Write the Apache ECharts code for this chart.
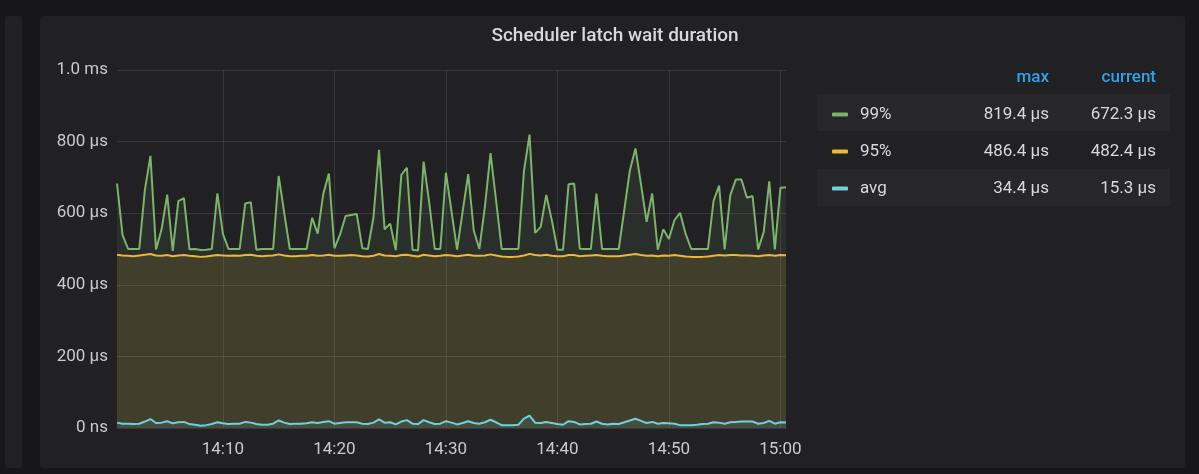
<!DOCTYPE html>
<html>
<head>
<meta charset="utf-8">
<script src="https://cdn.jsdelivr.net/npm/echarts@6/dist/echarts.min.js"></script>
<style>
  html, body { margin: 0; padding: 0; background: #17171a; width: 1199px; height: 474px; overflow: hidden; }
  .panel { position: absolute; background: #212124; border-radius: 3px; }
  .row { position: absolute; background: #27272b; }
  #chart { position: absolute; left: 0; top: 0; width: 1199px; height: 474px; }
</style>
</head>
<body>
<div class="panel" style="left:5px;top:16px;width:17px;height:452px;"></div>
<div class="panel" style="left:40px;top:16px;width:1145px;height:452px;"></div>
<div class="row" style="left:817px;top:94px;width:353px;height:37px;"></div>
<div class="row" style="left:817px;top:169px;width:353px;height:37px;"></div>
<div id="chart"></div>
<script>
// Time window: one sample every 30 s from 14:00:30 to 15:00:30
const startTime = [14, 0, 30];
const stepSeconds = 30;
const sampleCount = 121;

// Scheduler latch wait duration, microseconds
const p99 = [
  683, 539, 500, 500, 500, 665, 760, 499, 555, 652,
  495, 634, 642, 499, 500, 497, 498, 500, 655, 542,
  500, 500, 500, 627, 631, 498, 500, 500, 500, 704,
  600, 500, 500, 500, 500, 587, 543, 654, 711, 502,
  540, 592, 595, 598, 502, 500, 588, 777, 555, 571,
  497, 707, 727, 498, 496, 744, 630, 500, 500, 713,
  605, 498, 605, 709, 551, 500, 620, 768, 635, 500,
  500, 500, 500, 718, 819.4, 545, 562, 651, 580, 498,
  498, 681, 683, 501, 500, 500, 655, 500, 500, 500,
  500, 610, 720, 781, 680, 576, 655, 498, 555, 528,
  581, 601, 542, 500, 500, 500, 500, 634, 677, 499,
  650, 694, 694, 643, 648, 499, 547, 689, 499, 671,
  672.3
];
const p95 = [
  484, 482, 481, 480, 482, 484, 486, 482, 481, 483,
  480, 482, 483, 481, 480, 478, 479, 481, 483, 482,
  481, 482, 481, 483, 484, 481, 480, 481, 482, 485,
  482, 480, 480, 481, 481, 483, 481, 482, 484, 481,
  481, 482, 483, 482, 480, 479, 481, 486, 482, 481,
  480, 483, 484, 481, 479, 484, 482, 480, 481, 483,
  482, 480, 482, 484, 481, 481, 482, 485, 482, 479,
  478, 478, 479, 482, 486.4, 483, 482, 484, 481, 480,
  480, 483, 483, 480, 481, 482, 483, 481, 480, 480,
  480, 482, 484, 486, 483, 481, 482, 480, 482, 481,
  483, 481, 479, 478, 478, 478, 479, 481, 483, 482,
  483, 483, 482, 482, 481, 480, 482, 483, 481, 483,
  482.4
];
const avg = [
  15, 12, 12, 11, 12, 18, 25, 14, 15, 19,
  13, 16, 17, 11, 9, 6, 8, 11, 16, 13,
  11, 12, 12, 17, 15, 11, 9, 9, 12, 21,
  15, 11, 12, 12, 13, 16, 14, 17, 19, 12,
  14, 16, 16, 16, 12, 11, 15, 24, 15, 16,
  10, 18, 22, 12, 11, 22, 16, 11, 12, 19,
  15, 10, 14, 19, 14, 12, 16, 23, 16, 8,
  8, 8, 9, 26, 34.4, 15, 14, 17, 14, 11,
  9, 19, 17, 10, 11, 12, 18, 12, 10, 12,
  11, 16, 21, 26, 20, 14, 17, 12, 14, 13,
  12, 8, 8, 8, 9, 11, 12, 16, 15, 12,
  16, 17, 18, 18, 18, 12, 14, 20, 12, 16,
  15.3
];

const seriesNames = ['99%', '95%', 'avg'];
const seriesColors = ['#7eb26d', '#eab839', '#6ed0e0'];
const seriesData = [p99, p95, avg];
const yTicks = [0, 200, 400, 600, 800, 1000];

function pad(n) { return String(n).padStart(2, '0'); }
const times = [];
for (let i = 0; i < sampleCount; i++) {
  const s = startTime[0] * 3600 + startTime[1] * 60 + startTime[2] + i * stepSeconds;
  times.push(pad(Math.floor(s / 3600)) + ':' + pad(Math.floor(s / 60) % 60) + ':' + pad(s % 60));
}
// Grid lines and labels every 10 minutes
const isTenMinute = (idx) => times[idx].endsWith('0:00');

function fmtDuration(v) {
  if (v === 0) return '0 ns';
  if (v >= 1000) return (v / 1000).toFixed(1) + ' ms';
  return v + ' µs';
}
const fmtUs = (v) => v.toFixed(1) + ' µs';
const stats = {};
seriesNames.forEach((n, i) => {
  const d = seriesData[i];
  stats[n] = { max: Math.max(...d), current: d[d.length - 1] };
});

const font = 'Roboto, "Noto Sans", sans-serif';
const textColor = '#d8d9da';
const axisColor = '#c9cacc';
const fs = 17;

const richCell = (extra) => Object.assign({ color: textColor, fontSize: fs, fontFamily: font, lineHeight: 20 }, extra);

const chart = echarts.init(document.getElementById('chart'), null, { renderer: 'canvas' });
chart.setOption({
  backgroundColor: 'transparent',
  animation: false,
  textStyle: { fontFamily: font },
  grid: { left: 117, right: 413, top: 70, bottom: 46 },
  graphic: [
    { type: 'text', x: 615, y: 36, style: { text: 'Scheduler latch wait duration', fill: textColor,
      font: '500 19px ' + font, textAlign: 'center', textVerticalAlign: 'middle' } },
    { type: 'text', x: 1049, y: 78, style: { text: 'max', fill: '#33a2e5',
      font: '500 17px ' + font, textAlign: 'right', textVerticalAlign: 'middle' } },
    { type: 'text', x: 1156, y: 78, style: { text: 'current', fill: '#33a2e5',
      font: '500 17px ' + font, textAlign: 'right', textVerticalAlign: 'middle' } }
  ],
  legend: {
    orient: 'vertical', left: 832, top: 106, padding: 0,
    itemWidth: 16, itemHeight: 4, itemGap: 20, icon: 'roundRect',
    selectedMode: false,
    data: seriesNames,
    formatter: (name) => '{n|' + name + '}{m|' + fmtUs(stats[name].max) + '}{c|' + fmtUs(stats[name].current) + '}',
    textStyle: {
      color: textColor, fontSize: fs, fontFamily: font,
      rich: {
        n: richCell({ width: 93, padding: [0, 0, 0, 7] }),
        m: richCell({ width: 96, align: 'right' }),
        c: richCell({ width: 107, align: 'right' })
      }
    }
  },
  xAxis: {
    type: 'category', data: times, boundaryGap: false,
    axisLine: { show: false }, axisTick: { show: false },
    axisLabel: {
      interval: (idx) => isTenMinute(idx), margin: 13,
      color: axisColor, fontSize: fs, fontFamily: font,
      formatter: (v) => v.slice(0, 5)
    },
    splitLine: { show: true, interval: (idx) => isTenMinute(idx), lineStyle: { color: 'rgba(255,255,255,0.1)', width: 1 } }
  },
  yAxis: {
    type: 'value', min: yTicks[0], max: yTicks[yTicks.length - 1], interval: 200,
    axisLine: { show: false }, axisTick: { show: false },
    axisLabel: { color: axisColor, fontSize: fs, fontFamily: font, margin: 9, formatter: fmtDuration },
    splitLine: { lineStyle: { color: 'rgba(255,255,255,0.1)', width: 1 } }
  },
  series: seriesNames.map((n, i) => ({
    name: n, type: 'line', data: seriesData[i],
    symbol: 'none', smooth: false,
    itemStyle: { color: seriesColors[i] },
    lineStyle: { color: seriesColors[i], width: 2 },
    areaStyle: { color: seriesColors[i], opacity: i === 1 ? 0.12 : 0.1 }
  }))
});
</script>
</body>
</html>
